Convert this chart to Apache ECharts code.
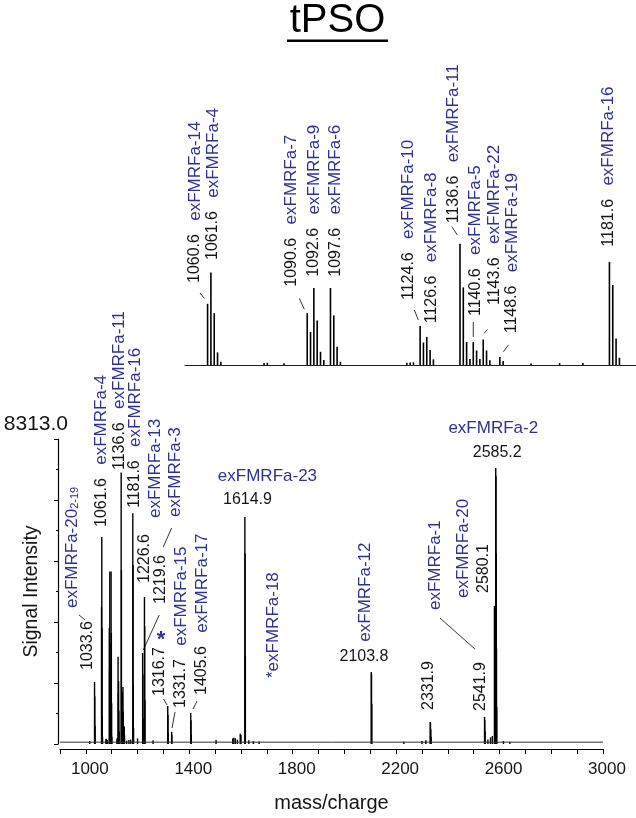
<!DOCTYPE html>
<html><head><meta charset="utf-8">
<script src="https://cdn.jsdelivr.net/npm/echarts@6/dist/echarts.min.js"></script>
<style>html,body{margin:0;padding:0;background:#fff}#c{width:636px;height:818px}</style>
</head><body><div id="c"></div>
<script>
// ---------------- data ----------------
const TITLE = 'tPSO';
const X_NAME = 'mass/charge';
const Y_NAME = 'Signal Intensity';
const X_MIN = 900, X_MAX = 3000, X_TICK_STEP = 100;
const X_LABELS = [1000, 1400, 1800, 2200, 2600, 3000];
const Y_MAX = 8313.0;
const INSET_X_MIN = 1053.8, INSET_X_MAX = 1189.6;
const NOISE_LEVEL = 50;

const PEAK_MZ = [
  1015, 1033.6, 1034.6, 1035.6,
  1060.6, 1061.6, 1062.6, 1063.6, 1064.6, 1077.6, 1078.6, 1083.6,
  1090.6, 1091.6, 1092.6, 1093.6, 1094.6, 1095.6,
  1097.6, 1098.6, 1099.6, 1100.6, 1120.6, 1121.6, 1122.6,
  1124.6, 1125.6, 1126.6, 1127.6, 1128.6,
  1136.6, 1137.6, 1138.6, 1139.6, 1140.6, 1141.6, 1142.6,
  1143.6, 1144.6, 1145.6, 1148.6, 1149.6, 1158.0, 1166.6, 1173.6,
  1181.6, 1182.6, 1183.6, 1184.6, 1200.0,
  1219.6, 1220.6, 1221.6, 1226.6, 1227.6, 1228.6, 1260.0,
  1316.7, 1317.7, 1318.7, 1331.7, 1332.7,
  1405.6, 1406.6, 1407.6, 1503.6,
  1568, 1572, 1578, 1586, 1597, 1600,
  1614.9, 1615.9, 1616.9, 1630, 1648, 1670,
  2103.8, 2104.8, 2105.8, 2230, 2300, 2315,
  2331.9, 2332.9, 2333.9, 2334.9,
  2541.9, 2542.9, 2543.9, 2555, 2565, 2572,
  2580.1, 2581.1, 2582.1, 2583.1,
  2585.2, 2586.2, 2587.2, 2588.2, 2589.2, 2615, 2640
];
const PEAK_INTENSITY = [
  80, 1690, 1300, 500,
  3733, 5645, 3164, 768, 200, 120, 140, 110,
  3164, 2015, 4700, 2722, 805, 300,
  4700, 3025, 1107, 200, 130, 160, 170,
  2378, 1373, 1712, 908, 345,
  7400, 4737, 1400, 363, 1410, 889, 363,
  1555, 889, 284, 484, 242, 90, 110, 120,
  6292, 4882, 1615, 442, 150,
  2480, 1900, 700, 4007, 3200, 1200, 100,
  1036, 800, 300, 330, 250,
  845, 650, 250, 110,
  150, 170, 160, 120, 280, 250,
  6190, 5200, 2400, 100, 80, 70,
  1965, 1900, 1100, 60, 80, 100,
  600, 580, 400, 200,
  736, 650, 350, 120, 180, 220,
  3762, 3700, 2600, 1400,
  7524, 7300, 5200, 2600, 1000, 80, 60
];

// annotations: [gridIndex, anchor m/z, rich text]
const ANNOT = [
  [0, 1033.6, '{n|1033.6}'],
  [0, 1033.6, '{p|exFMRFa-20}{s|2-19}'],
  [0, 1061.6, '{n|1061.6}   {p|exFMRFa-4}'],
  [0, 1136.6, '{n|1136.6}   {p|exFMRFa-11}'],
  [0, 1181.6, '{n|1181.6}   {p|exFMRFa-16}'],
  [0, 1226.6, '{n|1226.6}'],
  [0, 1226.6, '{p|exFMRFa-13}'],
  [0, 1219.6, '{n|1219.6}'],
  [0, 1219.6, '{p|exFMRFa-3}'],
  [0, 1316.7, '{n|1316.7}'],
  [0, 1331.7, '{n|1331.7}   {p|exFMRFa-15}'],
  [0, 1405.6, '{n|1405.6}   {p|exFMRFa-17}'],
  [0, 1614.9, '{p|*exFMRFa-18}'],
  [0, 2103.8, '{p|exFMRFa-12}'],
  [0, 2331.9, '{n|2331.9}'],
  [0, 2541.9, '{n|2541.9}'],
  [0, 2541.9, '{p|exFMRFa-1}'],
  [0, 2580.1, '{n|2580.1}'],
  [0, 2580.1, '{p|exFMRFa-20}'],
  [0, 1614.9, '{n|1614.9}'],
  [0, 1614.9, '{p|exFMRFa-23}'],
  [0, 2103.8, '{n|2103.8}'],
  [0, 2585.2, '{n|2585.2}'],
  [0, 2585.2, '{p|exFMRFa-2}'],
  [0, 1316.7, '{a|*}'],
  [1, 1060.6, '{n|1060.6}   {p|exFMRFa-14}'],
  [1, 1061.6, '{n|1061.6}   {p|exFMRFa-4}'],
  [1, 1090.6, '{n|1090.6}   {p|exFMRFa-7}'],
  [1, 1092.6, '{n|1092.6}   {p|exFMRFa-9}'],
  [1, 1097.6, '{n|1097.6}   {p|exFMRFa-6}'],
  [1, 1124.6, '{n|1124.6}   {p|exFMRFa-10}'],
  [1, 1126.6, '{n|1126.6}   {p|exFMRFa-8}'],
  [1, 1136.6, '{n|1136.6}   {p|exFMRFa-11}'],
  [1, 1140.6, '{n|1140.6}   {p|exFMRFa-5}'],
  [1, 1143.6, '{n|1143.6}   {p|exFMRFa-22}'],
  [1, 1148.6, '{n|1148.6}   {p|exFMRFa-19}'],
  [1, 1181.6, '{n|1181.6}   {p|exFMRFa-16}']
];
// leader lines: [gridIndex, anchor m/z]
const LEADER_ANCHOR = [
  [0, 1033.6], [0, 1219.6], [0, 1219.6], [0, 1316.7], [0, 1331.7], [0, 1405.6], [0, 2541.9],
  [1, 1060.6], [1, 1090.6], [1, 1124.6], [1, 1136.6], [1, 1140.6], [1, 1143.6], [1, 1148.6]
];

// ---------------- layout (pixel offsets) ----------------
// [dx from peak, y, orientation v=rotated / h=horizontal]
const ANNOT_POS = [
  [-7, 670, 'v'], [-22.5, 608, 'v'], [0, 527, 'v'], [-2, 470, 'v'], [2, 508, 'v'],
  [0, 583, 'v'], [10.5, 518, 'v'], [18.3, 604, 'v'], [32.3, 517, 'v'], [-7.7, 696, 'v'],
  [9.4, 708, 'v'], [11.3, 695, 'v'], [28.4, 678, 'v'], [-6.3, 641.7, 'v'], [-1.5, 710, 'v'],
  [-3.6, 711, 'v'], [-49.6, 610, 'v'], [-11, 593, 'v'], [-31, 598, 'v'],
  [2.6, 500, 'h'], [22.6, 476.7, 'h'], [-7.3, 656.7, 'h'], [1.5, 453, 'h'], [-2.5, 428, 'h'],
  [-6.7, 640, 'h'],
  [-12.6, 283, 'v'], [2, 260, 'v'], [-15.5, 286.7, 'v'], [0, 276.7, 'v'], [5, 276.7, 'v'],
  [-12, 300, 'v'], [5, 323.3, 'v'], [-6.6, 223.3, 'v'], [2, 316, 'v'], [11, 305, 'v'],
  [12, 333.3, 'v'], [-1, 246.7, 'v']
];
const LEADER_POS = [
  [-15.5, 615, -9.5, 620], [16.6, 615, 0.6, 650], [29, 528, 20.6, 547], [-4.2, 699, -0.7, 705],
  [3.4, 712, 0.4, 728], [6.3, 701, 2.3, 709], [-44.6, 618, -9.6, 649],
  [-7.6, 293, -3.3, 298.3], [-7.9, 298.3, -2.9, 309.3], [-5.8, 310, -1.8, 320],
  [-8.2, 226.7, -2.6, 235], [0, 322, 0, 337], [4.2, 329.3, 0.9, 333.3], [8.6, 345, 3.6, 351.7]
];

const FONT = '"Liberation Sans", Arial, Helvetica, sans-serif';
const INK = '#151515';
const BLUE = '#2e3192';

const spectrum = PEAK_MZ.map((m, i) => [m, PEAK_INTENSITY[i]]);
const insetSpectrum = spectrum.filter(d => d[0] >= INSET_X_MIN && d[0] <= INSET_X_MAX);

const chart = echarts.init(document.getElementById('c'), null, { renderer: 'canvas' });

const option = {
  animation: false,
  backgroundColor: '#fff',
  textStyle: { fontFamily: FONT },
  grid: [
    { left: 60, right: 33, top: 439, bottom: 74, containLabel: false, outerBoundsMode: 'none' },
    { left: 185, right: 0, top: 365 - Y_MAX / 61, bottom: 818 - 365, containLabel: false, outerBoundsMode: 'none' }
  ],
  xAxis: [
    {
      type: 'value', gridIndex: 0, min: X_MIN, max: X_MAX, interval: X_TICK_STEP,
      offset: 5,
      name: X_NAME, nameLocation: 'middle', nameGap: 44, nameMoveOverlap: false,
      nameTextStyle: { fontSize: 20, color: INK, fontFamily: FONT },
      axisLine: { show: true, onZero: false, lineStyle: { color: '#000', width: 1.2 } },
      axisTick: { show: true, inside: false, length: 5, interval: 0, lineStyle: { color: '#000', width: 1 } },
      axisLabel: {
        show: true, interval: 0, margin: 12, fontSize: 17, color: INK, fontFamily: FONT,
        hideOverlap: false, padding: [0, 0, 0, 8],
        formatter: v => (X_LABELS.indexOf(v) >= 0 ? String(v) : '')
      },
      splitLine: { show: false }
    },
    {
      type: 'value', gridIndex: 1, min: INSET_X_MIN, max: INSET_X_MAX,
      axisLine: { show: true, onZero: false, lineStyle: { color: '#222', width: 1 } },
      axisTick: { show: false }, axisLabel: { show: false }, splitLine: { show: false }
    }
  ],
  yAxis: [
    {
      type: 'value', gridIndex: 0, min: 0, max: Y_MAX, interval: Y_MAX / 5,
      offset: 2,
      name: Y_NAME, nameLocation: 'middle', nameGap: 16, nameMoveOverlap: false,
      nameTextStyle: { fontSize: 19.5, color: INK, fontFamily: FONT },
      axisLine: { show: true, lineStyle: { color: '#000', width: 1.2 } },
      axisTick: { show: true, inside: false, length: 4, lineStyle: { color: '#000' } },
      minorTick: { show: true, splitNumber: 2, length: 2, lineStyle: { color: '#000' } },
      axisLabel: {
        show: true, fontSize: 21, color: INK, fontFamily: FONT, margin: -10,
        align: 'right', verticalAlign: 'bottom', padding: [0, 0, 4, 0],
        formatter: v => (Math.abs(v - Y_MAX) < 1e-6 ? Y_MAX.toFixed(1) : '')
      },
      splitLine: { show: false }
    },
    {
      type: 'value', gridIndex: 1, min: 0, max: Y_MAX, show: false,
      splitLine: { show: false }
    }
  ],
  series: [
    {
      type: 'line', xAxisIndex: 0, yAxisIndex: 0, silent: true, symbol: 'none',
      data: [[X_MIN, NOISE_LEVEL], [X_MAX, NOISE_LEVEL]],
      lineStyle: { color: '#333', width: 1 }
    },
    {
      type: 'bar', xAxisIndex: 0, yAxisIndex: 0, data: spectrum, barWidth: 1.4,
      itemStyle: { color: '#000' }, silent: true
    },
    {
      type: 'bar', xAxisIndex: 1, yAxisIndex: 1, data: insetSpectrum, barWidth: 1.6,
      itemStyle: { color: '#000' }, silent: true
    }
  ]
};
chart.setOption(option);

const rich = {
  n: { fontSize: 16, fill: INK, fontFamily: FONT },
  p: { fontSize: 17, fill: BLUE, fontFamily: FONT },
  s: { fontSize: 11, fill: BLUE, fontFamily: FONT, verticalAlign: 'bottom' },
  a: { fontSize: 22, fill: BLUE, fontFamily: FONT, fontWeight: 'bold' }
};

function peakX(grid, mz) {
  return chart.convertToPixel({ gridIndex: grid }, [mz, 0])[0];
}

const graphics = [];
ANNOT.forEach((a, i) => {
  const [g, mz, txt] = a;
  const [dx, y, o] = ANNOT_POS[i];
  const x = peakX(g, mz) + dx;
  graphics.push({
    type: 'text', x: x, y: y, rotation: o === 'v' ? Math.PI / 2 : 0, silent: true,
    style: {
      text: txt, rich: rich, fontSize: 16, fontFamily: FONT, fill: INK,
      align: o === 'v' ? 'left' : 'center', verticalAlign: 'middle'
    }
  });
});
LEADER_ANCHOR.forEach((a, i) => {
  const x0 = peakX(a[0], a[1]);
  const p = LEADER_POS[i];
  graphics.push({
    type: 'line', silent: true,
    shape: { x1: x0 + p[0], y1: p[1], x2: x0 + p[2], y2: p[3] },
    style: { stroke: '#333', lineWidth: 1 }
  });
});
graphics.push({
  type: 'text', x: 337.5, y: 21, silent: true,
  style: { text: TITLE, fontSize: 40, fontFamily: FONT, fill: '#000', align: 'center', verticalAlign: 'middle' }
});
graphics.push({
  type: 'rect', silent: true, shape: { x: 287, y: 39.5, width: 101, height: 2.6 },
  style: { fill: '#000' }
});
chart.setOption({ graphic: graphics });
</script>
</body></html>
